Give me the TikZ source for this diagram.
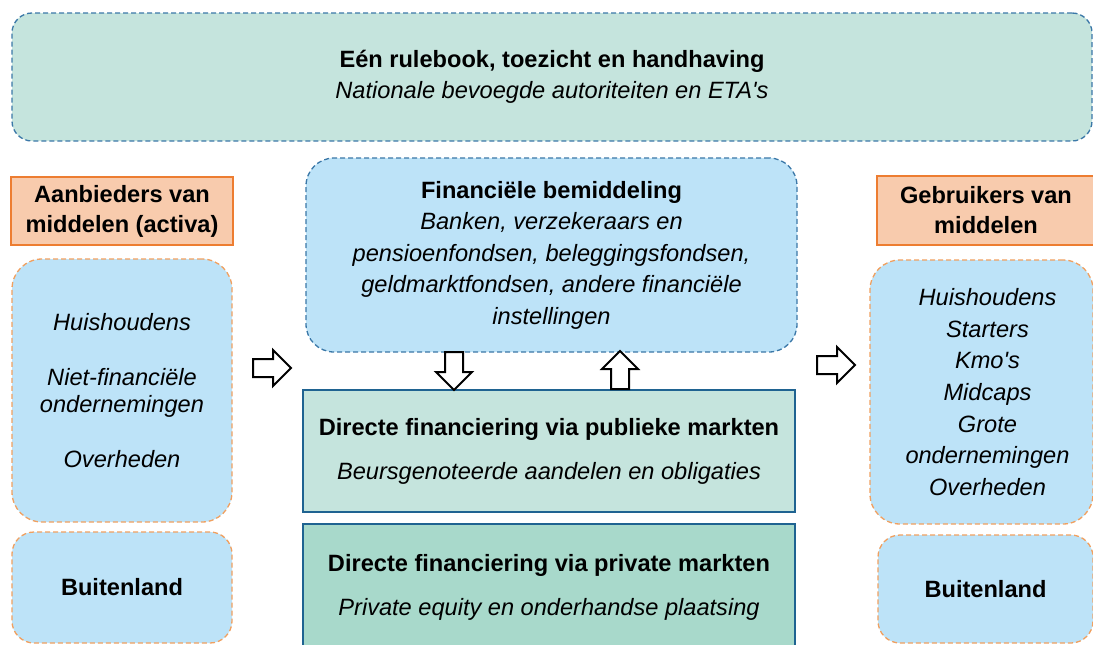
\documentclass[tikz,border=0pt]{standalone}
\usepackage{fontspec}
\setmainfont{Liberation Sans}
\definecolor{tealfill}{HTML}{C5E4DD}
\definecolor{tealdark}{HTML}{A8D9CB}
\definecolor{skyfill}{HTML}{BDE3F8}
\definecolor{peach}{HTML}{F8CBAD}
\definecolor{orangeline}{HTML}{ED7D31}
\definecolor{orangedash}{HTML}{F0A060}
\definecolor{bluedash}{HTML}{3B78A8}
\definecolor{navyline}{HTML}{1F6391}

\begin{document}
\begin{tikzpicture}[x=1pt, y=-1pt,
	every node/.style={font=\fontsize{23.6}{31.5}\selectfont, align=center, inner sep=0pt},
	supervisionbox/.style={draw=bluedash, fill=#1, dash pattern=on 5pt off 3pt, line width=1.3pt},
	sidebox/.style={draw=orangedash, fill=skyfill, dash pattern=on 5pt off 3pt, line width=1.3pt},
	headerbox/.style={draw=orangeline, fill=peach, line width=2pt},
	marketbox/.style={draw=navyline, fill=#1, line width=2pt},
	flowarrow/.pic={\draw[line width=2pt, fill=white, line join=miter] (0,-9) -- (20,-9) -- (20,-18) -- (38,0) -- (20,18) -- (20,9) -- (0,9) -- cycle;}
	]
			\useasboundingbox (0,0) rectangle (1093,645);
			
			%top band
			\node[supervisionbox=tealfill, rounded corners=20pt, minimum width=1080pt, minimum height=128pt] (rulebook) at (552,77)
				{\textbf{Eén rulebook, toezicht en handhaving}\\\textit{Nationale bevoegde autoriteiten en ETA\textquotesingle s}};
			
			%suppliers
			\node[headerbox, minimum width=222pt, minimum height=68pt, font=\fontsize{23.6}{30}\selectfont\bfseries] (supplyhead) at (122,211)
				{Aanbieders van\\middelen (activa)};
			\node[sidebox, rounded corners=30pt, minimum width=220pt, minimum height=263pt, font=\fontsize{23.6}{27.5}\selectfont\itshape] (supply) at (122,390.5)
				{Huishoudens\\[27.5pt]Niet-financiële\\ondernemingen\\[27.5pt]Overheden};
			\node[sidebox, rounded corners=22pt, minimum width=220pt, minimum height=111pt, font=\fontsize{23.6}{31.5}\selectfont\bfseries] (supplyabroad) at (122,587.5)
				{Buitenland};
			
			%intermediation and markets
			\node[supervisionbox=skyfill, rounded corners=28pt, minimum width=491pt, minimum height=194pt] (intermed) at (551.5,255)
				{\textbf{Financiële bemiddeling}\\\itshape Banken, verzekeraars en\\\itshape pensioenfondsen, beleggingsfondsen,\\\itshape geldmarktfondsen, andere financiële\\\itshape instellingen};
			\node[marketbox=tealfill, minimum width=492pt, minimum height=122pt] (public) at (549,451)
				{\textbf{Directe financiering via publieke markten}\\[12.5pt]\textit{Beursgenoteerde aandelen en obligaties}};
			\node[marketbox=tealdark, minimum width=492pt, minimum height=126pt] (private) at (549,587)
				{\textbf{Directe financiering via private markten}\\[12.5pt]\textit{Private equity en onderhandse plaatsing}};
			
			%users
			\node[headerbox, minimum width=218pt, minimum height=69pt, font=\fontsize{23.6}{30}\selectfont\bfseries] (usehead) at (986,210.5)
				{Gebruikers van\\middelen};
			\node[sidebox, rounded corners=30pt, minimum width=223pt, minimum height=264pt, font=\fontsize{23.6}{31.7}\selectfont\itshape] (use) at (981.5,392)
				{\hspace*{12pt}Huishoudens\\\hspace*{12pt}Starters\\\hspace*{12pt}Kmo\textquotesingle s\\\hspace*{12pt}Midcaps\\\hspace*{12pt}Grote\\\hspace*{12pt}ondernemingen\\\hspace*{12pt}Overheden};
			\node[sidebox, rounded corners=22pt, minimum width=215pt, minimum height=108pt, font=\fontsize{23.6}{31.5}\selectfont\bfseries] (useabroad) at (985.5,589)
				{Buitenland};
			
			%flows
			\pic at (253,368) {flowarrow};
			\pic at (817,365) {flowarrow};
			\pic[rotate=-90] at (454,352) {flowarrow};
			\pic[rotate=90] at (620,389) {flowarrow};
		\end{tikzpicture}
\end{document}
